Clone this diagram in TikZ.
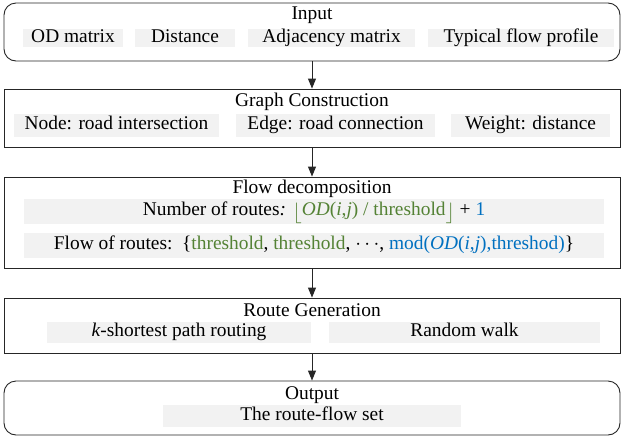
\documentclass[tikz,border=0pt]{standalone}
\usepackage{fontspec}
\setmainfont{Liberation Serif}
\usetikzlibrary{arrows.meta}
\definecolor{thrgreen}{HTML}{548235}
\definecolor{modblue}{HTML}{0070C0}
\definecolor{itemgray}{HTML}{F2F2F2}

\begin{document}
\begin{tikzpicture}[
    x=1pt, y=-1pt,
    font=\fontsize{19.4}{23}\selectfont,
    stage/.style = {rectangle, draw=black!85, line width=0.9pt, minimum width=616pt, inner sep=0pt},
    endstage/.style = {stage, rounded corners=12pt},
    title/.style = {inner sep=0pt, text height=0.87em, text depth=0em},
    item/.style = {rectangle, fill=itemgray, inner sep=0pt, text height=0.87em, text depth=0em},
    arrow/.style = {-{Triangle[width=8pt,length=10pt]}, line width=0.9pt, draw=black!85}
]
\useasboundingbox (0,0) rectangle (622,437);

% Stage boxes, top to bottom
\node[endstage, minimum height=58pt] (input) at (312,32) {};
\node[stage, minimum height=58pt] (graph) at (312,118) {};
\node[stage, minimum height=91pt] (flow) at (312,222.5) {};
\node[stage, minimum height=55pt] (route) at (312,325.5) {};
\node[endstage, minimum height=54pt] (output) at (312,408) {};

% Titles
\node[title] (inputtitle) at (312,15.5) {Input};
\node[title] (graphtitle) at (312,102) {Graph Construction};
\node[title] (flowtitle) at (312,189) {Flow decomposition};
\node[title] (routetitle) at (312,312) {Route Generation};
\node[title] (outputtitle) at (312,395) {Output};

% Input items
\node[item, minimum width=100pt, minimum height=18pt] (odmatrix) at (73,38) {OD matrix};
\node[item, minimum width=100pt, minimum height=18pt] (distance) at (185,38) {Distance};
\node[item, minimum width=167pt, minimum height=18pt] (adjacency) at (331.5,38) {Adjacency matrix};
\node[item, minimum width=186pt, minimum height=18pt] (profile) at (521,38) {Typical flow profile};

% Graph items
\node[item, minimum width=205pt, minimum height=23pt] (nodeitem) at (116.5,125.5) {Node: road intersection};
\node[item, minimum width=199pt, minimum height=23pt] (edgeitem) at (335.5,125.5) {Edge: road connection};
\node[item, minimum width=159pt, minimum height=23pt] (weightitem) at (530.5,125.5) {Weight: distance};

% Decomposition items
\node[item, minimum width=580pt, minimum height=25pt] (numroutes) at (314,211.5)
    {Number of routes\textit{:} \textcolor{thrgreen}{\raisebox{-3pt}{$\Bigl\lfloor$}\textit{OD}(\textit{i},\textit{j}) / threshold\raisebox{-3pt}{$\Bigr\rfloor$}} + \textcolor{modblue}{1}};
\node[item, minimum width=580pt, minimum height=25pt] (flowroutes) at (314,245.5)
    {Flow of routes:\ \ \{\textcolor{thrgreen}{threshold}, \textcolor{thrgreen}{threshold}, $\cdots$, \textcolor{modblue}{mod(\textit{OD}(\textit{i},\textit{j}),threshod)}\}};

% Route generation items
\node[item, minimum width=264pt, minimum height=21pt] (kshortest) at (179,332.5) {\textit{k}-shortest path routing};
\node[item, minimum width=271pt, minimum height=21pt] (randwalk) at (464.5,332.5) {Random walk};

% Output item
\node[item, minimum width=298pt, minimum height=22pt] (routeflow) at (312,416) {The route-flow set};

% Arrows
\draw[arrow] (input) -- (graph);
\draw[arrow] (graph) -- (flow);
\draw[arrow] (flow) -- (route);
\draw[arrow] (route) -- (output);

\end{tikzpicture}
\end{document}
